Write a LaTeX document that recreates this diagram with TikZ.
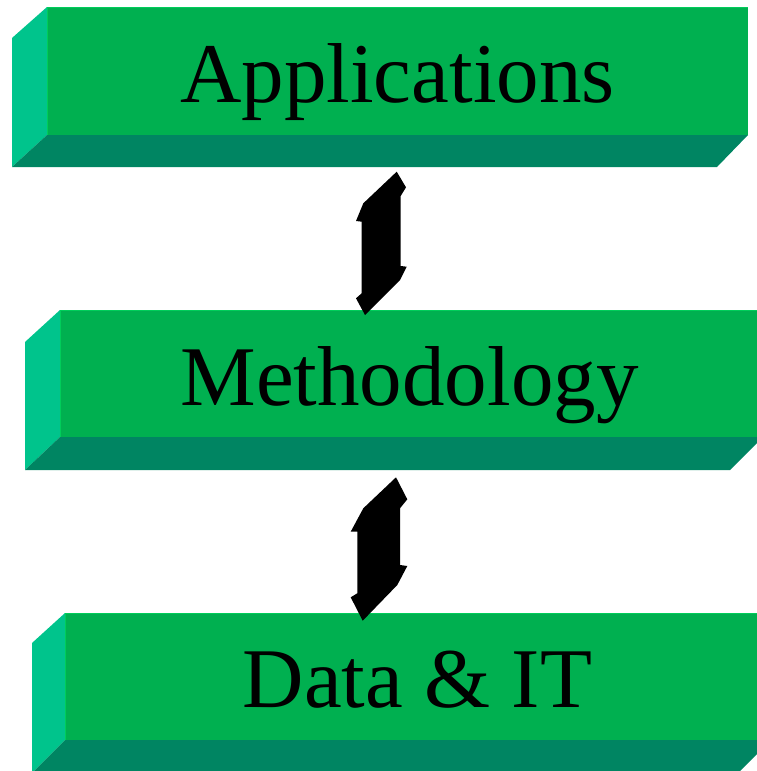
\documentclass[tikz,border=0pt]{standalone}
\usepackage{fontspec}
\setmainfont{Liberation Serif}
\definecolor{frontc}{RGB}{0,176,80}
\definecolor{sidec}{RGB}{0,196,140}
\definecolor{bottomc}{RGB}{0,133,98}
\definecolor{edgec}{RGB}{0,205,90}
\tikzset{
  front/.style={fill=frontc},
  side/.style={fill=sidec},
  bottom/.style={fill=bottomc},
  edgeline/.style={draw=edgec,line width=1.5pt},
  label/.style={anchor=base,font=\fontsize{85}{90}\selectfont,inner sep=0pt,text=black},
  arrowshape/.style={fill=black}
}
\begin{document}
\begin{tikzpicture}[x=1pt,y=-1pt]
\useasboundingbox (0,0) rectangle (757,771);
\clip (0,0) rectangle (757,771);
% Block 1
\fill[side] (12,38) -- (47,7) -- (47,135) -- (12,167) -- cycle;
\fill[bottom] (12,167) -- (47,135) -- (748,135) -- (717,167) -- cycle;
\fill[front] (47,7) rectangle (748,135);
\draw[edgeline] (47.5,8) -- (47.5,135);
\draw[draw=edgec,line width=0.8pt] (47,7.4) -- (748,7.4);
\node[label] (app) at (397.5,102) {Applications};
% Block 2
\fill[side] (25,342) -- (60,310) -- (60,437) -- (25,470) -- cycle;
\fill[bottom] (25,470) -- (60,437) -- (763,437) -- (730,470) -- cycle;
\fill[front] (60,310) rectangle (763,437);
\draw[edgeline] (60.5,311) -- (60.5,437);
\draw[draw=edgec,line width=0.8pt] (60,310.4) -- (763,310.4);
\node[label] (meth) at (409.5,405) {Methodology};
% Block 3
\fill[side] (32,643) -- (65,613) -- (65,740) -- (32,773) -- cycle;
\fill[bottom] (32,773) -- (65,740) -- (771,740) -- (738,773) -- cycle;
\fill[front] (65,613) rectangle (771,740);
\draw[edgeline] (65.5,614) -- (65.5,740);
\draw[draw=edgec,line width=0.8pt] (65,613.4) -- (771,613.4);
\node[label] (data) at (417.5,707) {Data \& IT};
% Arrow 1
\coordinate (a1t) at (396.7,171.7);
\coordinate (a1b) at (365,315);
\fill[arrowshape] (a1t) -- (406,187.3) -- (400.7,196) -- (400.7,266) -- (406.7,266.7) -- (400,280)
  -- (a1b) -- (356,298.3) -- (361.7,293.3) -- (361.7,221.7) -- (356,221) -- (363.3,203.3) -- cycle;
% Arrow 2
\coordinate (a2t) at (396,477.3);
\coordinate (a2b) at (362.7,620.7);
\fill[arrowshape] (a2t) -- (407.3,499.3) -- (400,508.3) -- (400,565) -- (407.3,566) -- (397.3,585)
  -- (a2b) -- (350.7,597.3) -- (357.3,593.3) -- (357.3,531.7) -- (350.7,531.7) -- (363.3,508.3) -- cycle;
\end{tikzpicture}
\end{document}
